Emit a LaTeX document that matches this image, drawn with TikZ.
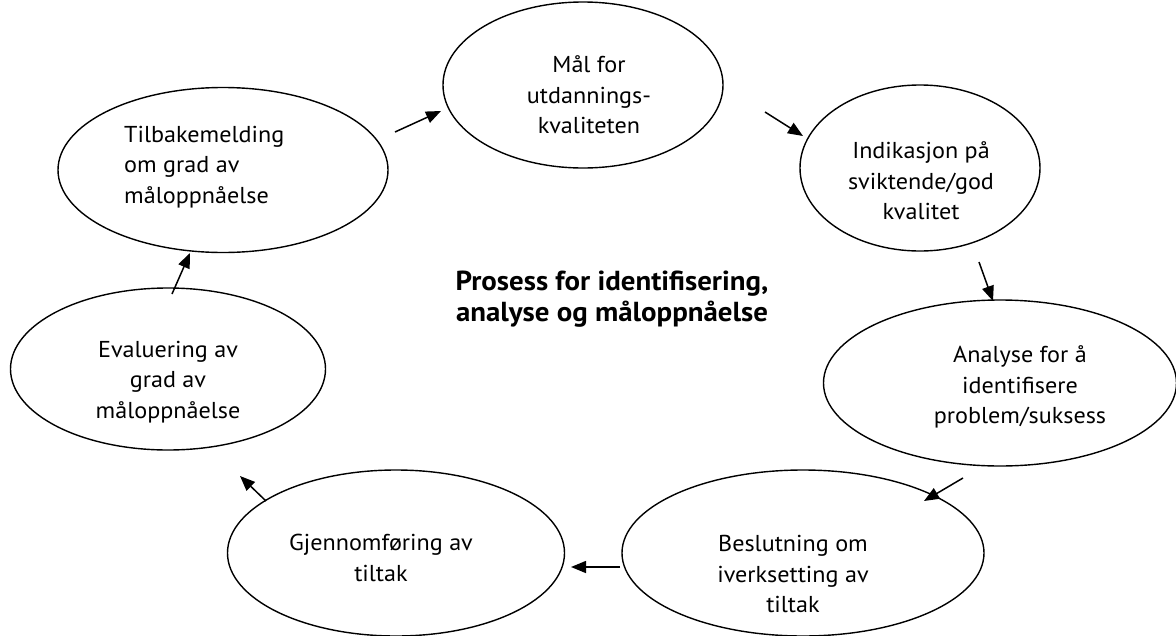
\documentclass[tikz,border=0pt]{standalone}
\usepackage{fontspec}
\setmainfont{PT Sans}[FakeStretch=1.05]
\usetikzlibrary{shapes.geometric,arrows.meta}
\begin{document}
\begin{tikzpicture}[x=1pt,y=-1pt,
  bub/.style={draw,ellipse,line width=1.4pt,inner sep=0pt},
  lbl/.style={font=\fontsize{23}{30.5}\selectfont,inner sep=0pt},
  ttl/.style={font=\fontsize{27.5}{31}\selectfont\bfseries,align=center,inner sep=0pt},
  arr/.style={line width=1.5pt,-{Triangle[length=15pt,width=12pt]}}]
\useasboundingbox (0,0) rectangle (1176,635);
% ellipses
\node[bub,minimum width=280pt,minimum height=166pt] (e1) at (583,85) {};
\node[bub,minimum width=240pt,minimum height=166pt] (e2) at (920,168) {};
\node[bub,minimum width=353pt,minimum height=166pt] (e3) at (1000,383) {};
\node[bub,minimum width=362pt,minimum height=166pt] (e4) at (803,553) {};
\node[bub,minimum width=337pt,minimum height=166pt] (e5) at (396,553) {};
\node[bub,minimum width=315pt,minimum height=162pt] (e6) at (168,369) {};
\node[bub,minimum width=330pt,minimum height=165pt] (e7) at (223,170) {};
% texts
\node[lbl,align=center] (t1) at (589,95) {Mål for\\utdannings-\\kvaliteten};
\node[lbl,align=center] (t2) at (921,181) {Indikasjon på\\sviktende/god\\kvalitet};
\node[lbl,align=center] (t3) at (1020,387) {Analyse for å\\identifisere\\problem/suksess};
\node[lbl,align=center] (t4) at (793,574) {Beslutning om\\iverksetting av\\tiltak};
\node[lbl,align=center] (t5) at (381,558) {Gjennomføring av\\tiltak};
\node[lbl,align=center] (t6) at (168,382) {Evaluering av\\grad av\\måloppnåelse};
\node[lbl,align=left,anchor=west] (t7) at (124,167) {Tilbakemelding\\om grad av\\måloppnåelse};
\node[ttl] (title) at (612,299) {Prosess for identifisering,\\analyse og måloppnåelse};
% arrows
\coordinate (a1s) at (395,132); \coordinate (a1e) at (441,111);
\coordinate (a2s) at (765,112); \coordinate (a2e) at (803,136);
\coordinate (a3s) at (979,262); \coordinate (a3e) at (993,301);
\coordinate (a4s) at (963,478); \coordinate (a4e) at (924,501);
\coordinate (a5s) at (620,567); \coordinate (a5e) at (571,567);
\coordinate (a6s) at (266,501); \coordinate (a6e) at (240,476);
\coordinate (a7s) at (172,294); \coordinate (a7e) at (190,253);
\draw[arr] (a1s) -- (a1e);
\draw[arr] (a2s) -- (a2e);
\draw[arr] (a3s) -- (a3e);
\draw[arr] (a4s) -- (a4e);
\draw[arr] (a5s) -- (a5e);
\draw[arr] (a6s) -- (a6e);
\draw[arr] (a7s) -- (a7e);
\end{tikzpicture}
\end{document}
